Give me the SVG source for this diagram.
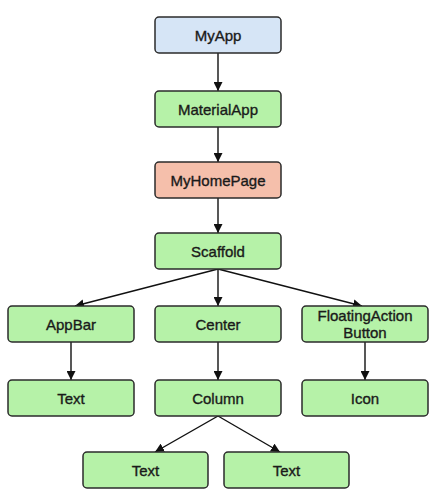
<svg xmlns="http://www.w3.org/2000/svg" width="435" height="494" viewBox="0 0 435 494">
<style>
.n rect{stroke:#2b2b2b;stroke-width:1.5}
.g rect{fill:#b6f2a8}
.b rect{fill:#d6e5f6}
.r rect{fill:#f5bfab}
text{font-family:"Liberation Sans",Arial,sans-serif;font-size:15px;fill:#1a1a1a;stroke:#1a1a1a;stroke-width:0.35;text-anchor:middle}
.e line{stroke:#111;stroke-width:1.4}
</style>
<defs>
<marker id="ah" viewBox="0 0 10 10" refX="10" refY="5" markerWidth="9" markerHeight="9" markerUnits="userSpaceOnUse" orient="auto">
<path d="M0,0 L10,5 L0,10 Z" fill="#111"/>
</marker>
</defs>
<rect width="435" height="494" fill="#fff"/>
<g class="e">
<line x1="218" y1="53" x2="218" y2="91" marker-end="url(#ah)"/>
<line x1="218" y1="127" x2="218" y2="162" marker-end="url(#ah)"/>
<line x1="218" y1="198" x2="218" y2="233" marker-end="url(#ah)"/>
<line x1="218" y1="269" x2="75" y2="306" marker-end="url(#ah)"/>
<line x1="218" y1="269" x2="218" y2="306" marker-end="url(#ah)"/>
<line x1="218" y1="269" x2="362" y2="306" marker-end="url(#ah)"/>
<line x1="71" y1="342" x2="71" y2="380" marker-end="url(#ah)"/>
<line x1="218" y1="342" x2="218" y2="380" marker-end="url(#ah)"/>
<line x1="365" y1="342" x2="365" y2="380" marker-end="url(#ah)"/>
<line x1="218" y1="416" x2="155" y2="452" marker-end="url(#ah)"/>
<line x1="218" y1="416" x2="280" y2="452" marker-end="url(#ah)"/>
</g>
<g id="myapp" class="n b"><rect x="155" y="17" width="126" height="36" rx="4"/><text x="218" y="40.5">MyApp</text></g>
<g id="materialapp" class="n g"><rect x="155" y="91" width="126" height="36" rx="4"/><text x="218" y="114.5">MaterialApp</text></g>
<g id="myhomepage" class="n r"><rect x="155" y="162" width="126" height="36" rx="4"/><text x="218" y="185.5">MyHomePage</text></g>
<g id="scaffold" class="n g"><rect x="155" y="233" width="126" height="36" rx="4"/><text x="218" y="256.5">Scaffold</text></g>
<g id="appbar" class="n g"><rect x="8" y="306" width="126" height="36" rx="4"/><text x="71" y="329.5">AppBar</text></g>
<g id="center" class="n g"><rect x="155" y="306" width="126" height="36" rx="4"/><text x="218" y="329.5">Center</text></g>
<g id="fab" class="n g"><rect x="302" y="306" width="126" height="36" rx="4"/><text x="365" y="321">FloatingAction</text><text x="365" y="338">Button</text></g>
<g id="text1" class="n g"><rect x="8" y="380" width="126" height="36" rx="4"/><text x="71" y="403.5">Text</text></g>
<g id="column" class="n g"><rect x="155" y="380" width="126" height="36" rx="4"/><text x="218" y="403.5">Column</text></g>
<g id="icon" class="n g"><rect x="302" y="380" width="126" height="36" rx="4"/><text x="365" y="403.5">Icon</text></g>
<g id="text2" class="n g"><rect x="83" y="452" width="125" height="36" rx="4"/><text x="145.5" y="475.5">Text</text></g>
<g id="text3" class="n g"><rect x="224" y="452" width="125" height="36" rx="4"/><text x="286.5" y="475.5">Text</text></g>
</svg>
